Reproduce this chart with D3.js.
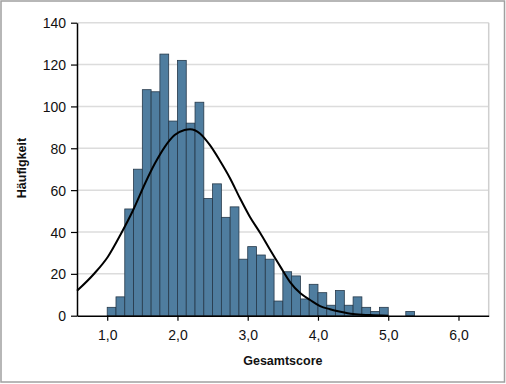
<!DOCTYPE html>
<html>
<head>
<meta charset="utf-8">
<script src="https://cdn.jsdelivr.net/npm/d3@7"></script>
<style>
  body { margin: 0; background: #fff; }
  svg text { font-family: "Liberation Sans", Arial, sans-serif; fill: #111; }
</style>
</head>
<body>
<div id="chart"></div>
<script>
// histogram bins (width 0.125) and counts
const binStarts = [1.0, 1.125, 1.25, 1.375, 1.5, 1.625, 1.75, 1.875, 2.0, 2.125, 2.25, 2.375,
                   2.5, 2.625, 2.75, 2.875, 3.0, 3.125, 3.25, 3.375, 3.5, 3.625, 3.75, 3.875,
                   4.0, 4.125, 4.25, 4.375, 4.5, 4.625, 4.75, 4.875, 5.0, 5.125, 5.25];
const binWidth = 0.125;
const counts = [4, 9, 51, 70, 108, 107, 125, 93, 122, 92, 102, 56,
                63, 47, 52, 27, 33, 29, 27, 7, 21, 19, 8, 15,
                11, 5, 12, 5, 9, 4, 2, 4, 0, 0, 2];

// fitted curve
const curveX = [0.57, 0.82, 1.01, 1.2, 1.37, 1.54, 1.68, 1.82, 1.96, 2.1, 2.18, 2.32, 2.46,
                2.6, 2.75, 2.89, 3.03, 3.18, 3.32, 3.46, 3.6, 3.75, 3.89, 4.03, 4.17,
                4.32, 4.5, 4.74, 5.0];
const curveY = [11.9, 20.3, 28.2, 39.4, 50.5, 63.3, 72.8, 80.7, 86.3, 88.7, 89.1, 87.1, 81.6,
                74.3, 65.6, 56.1, 47.3, 39.4, 31.4, 23.7, 16.2, 10.7, 7.5, 4.6, 3.1,
                1.9, 0.8, 0.3, 0];

const xTicks = [1, 2, 3, 4, 5, 6];
const yTicks = [0, 20, 40, 60, 80, 100, 120, 140];

const W = 506, H = 384;
const margin = {top: 22.7, right: 17.3, bottom: 68.3, left: 77};
const iw = W - margin.left - margin.right;
const ih = H - margin.top - margin.bottom;

const svg = d3.select("#chart").append("svg")
    .attr("width", W).attr("height", H);

// outer frame
svg.append("rect")
    .attr("x", 1).attr("y", 1).attr("width", W - 2.5).attr("height", H - 3)
    .attr("fill", "none").attr("stroke", "#a0a0a0").attr("stroke-width", 1.5);

const g = svg.append("g").attr("transform", `translate(${margin.left},${margin.top})`);

const x = d3.scaleLinear().domain([0.57, 6.43]).range([0, iw]);
const y = d3.scaleLinear().domain([0, 140]).range([ih, 0]);

// gridlines
g.append("g").selectAll("line")
    .data(yTicks.filter(d => d > 0))
    .join("line")
    .attr("x1", 0).attr("x2", iw)
    .attr("y1", d => y(d)).attr("y2", d => y(d))
    .attr("stroke", "#dcdcdc").attr("stroke-width", 1.5);

// right border of plot
g.append("line")
    .attr("x1", iw).attr("x2", iw).attr("y1", 0).attr("y2", ih)
    .attr("stroke", "#cfcfcf").attr("stroke-width", 1.5);

// bars
g.append("g").selectAll("rect")
    .data(binStarts.map((b, i) => ({b: b, c: counts[i]})).filter(d => d.c > 0))
    .join("rect")
    .attr("x", d => x(d.b))
    .attr("width", d => x(d.b + binWidth) - x(d.b))
    .attr("y", d => y(d.c))
    .attr("height", d => y(0) - y(d.c))
    .attr("fill", "#4f7d9f")
    .attr("stroke", "#26394a")
    .attr("stroke-width", 0.8);

// curve
const line = d3.line()
    .x(d => x(d[0]))
    .y(d => y(d[1]))
    .curve(d3.curveMonotoneX);
g.append("path")
    .datum(curveX.map((v, i) => [v, curveY[i]]))
    .attr("d", line)
    .attr("fill", "none")
    .attr("stroke", "#000")
    .attr("stroke-width", 2);

// axes
const xAxis = d3.axisBottom(x).tickValues(xTicks).tickSize(5).tickSizeOuter(0)
    .tickFormat(d => d3.format(".1f")(d).replace(".", ","));
const gx = g.append("g").attr("transform", `translate(0,${ih})`).call(xAxis);
gx.select(".domain").attr("stroke", "#000").attr("stroke-width", 1.5);
gx.selectAll(".tick line").attr("stroke", "#000").attr("stroke-width", 1.2);
gx.selectAll("text").attr("font-size", 14).attr("dy", "1.2em")
    .attr("font-family", "Liberation Sans, Arial, sans-serif").attr("fill", "#111");

const yAxis = d3.axisLeft(y).tickValues(yTicks).tickSize(6).tickSizeOuter(0);
const gy = g.append("g").call(yAxis);
gy.select(".domain").attr("stroke", "#000").attr("stroke-width", 1.5);
gy.selectAll(".tick line").attr("stroke", "#000").attr("stroke-width", 1.2);
gy.selectAll("text").attr("font-size", 14).attr("x", -11).attr("dy", "0.36em")
    .attr("font-family", "Liberation Sans, Arial, sans-serif").attr("fill", "#111");

// axis titles
svg.append("text")
    .attr("x", margin.left + iw / 2)
    .attr("y", 365)
    .attr("text-anchor", "middle")
    .attr("font-size", 12.5).attr("font-weight", "bold")
    .text("Gesamtscore");

svg.append("text")
    .attr("transform", "translate(26,168) rotate(-90)")
    .attr("text-anchor", "middle")
    .attr("font-size", 12.5).attr("font-weight", "bold")
    .text("Häufigkeit");
</script>
</body>
</html>
